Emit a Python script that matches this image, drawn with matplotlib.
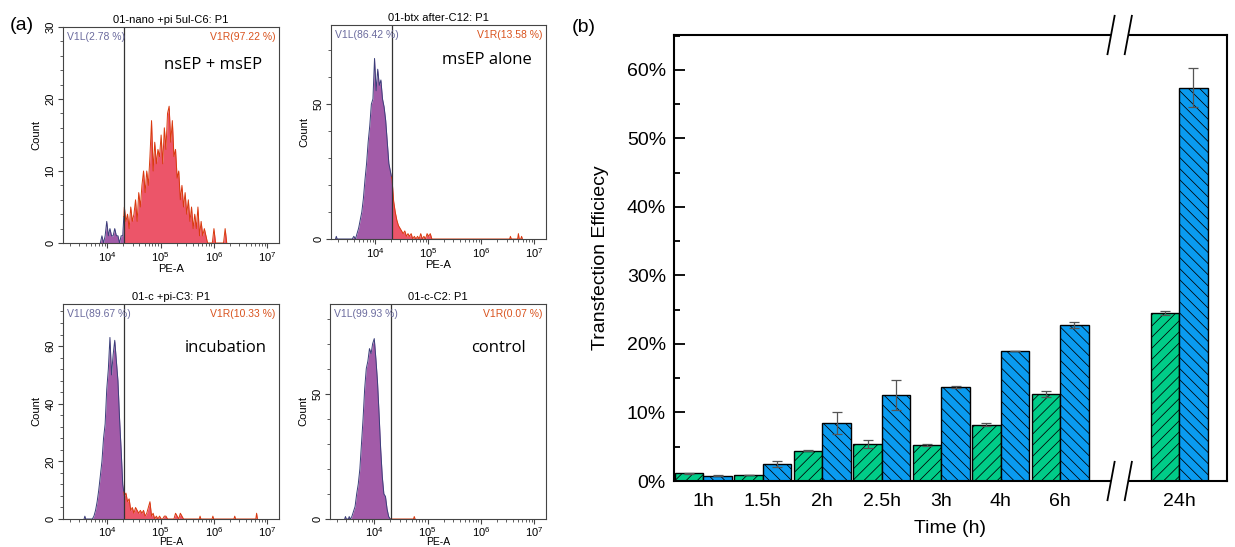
import numpy as np
import matplotlib.pyplot as plt
from matplotlib.ticker import LogLocator, LogFormatterSciNotation, MultipleLocator, FuncFormatter, NullFormatter

plt.rcParams['font.family'] = ['Liberation Sans', 'DejaVu Sans']
plt.rcParams['hatch.linewidth'] = 0.55

W, H = 1235, 547

# ---------------- (a) flow cytometry histograms (log10 PE-A, step 0.03)
gate = 4.31
step = 0.03

titles = ['01-nano +pi 5ul-C6: P1', '01-btx after-C12: P1', '01-c +pi-C3: P1', '01-c-C2: P1']
left_pct = ['V1L(2.78 %)', 'V1L(86.42 %)', 'V1L(89.67 %)', 'V1L(99.93 %)']
right_pct = ['V1R(97.22 %)', 'V1R(13.58 %)', 'V1R(10.33 %)', 'V1R(0.07 %)']
conditions = ['nsEP + msEP', 'msEP alone', 'incubation', 'control']

start1 = 3.90
counts1 = [1, 0, 1, 3, 1, 2, 1, 1, 2, 1, 1, 0, 1, 1,
           5, 3, 4, 2, 5, 3, 4, 6, 3, 7, 5, 8, 10, 7, 10, 8, 12, 17, 10, 14,
           11, 13, 12, 15, 11, 16, 13, 18, 19, 14, 17, 12, 13, 9, 10, 6, 8, 5, 7, 4,
           6, 3, 5, 2, 4, 2, 5, 1, 3, 1, 2, 1, 0, 0, 0, 0, 2, 0, 0, 0, 0, 0, 0, 2]
sparse1 = []

start2 = 3.60
counts2 = [1, 0, 2, 4, 7, 10, 15, 22, 28, 36, 42, 50, 52, 67, 55, 63, 57, 59, 52, 49, 44, 36, 28,
           25, 22, 14, 10, 7, 5, 4, 3, 2, 3, 1, 2, 1, 2, 0, 1, 0, 1, 0, 2, 0, 1, 0, 2, 1, 2]
sparse2 = [(3.27, 1), (6.55, 1), (6.70, 2), (6.76, 1)]

start3 = 3.75
counts3 = [1, 3, 6, 10, 15, 20, 28, 33, 45, 52, 63, 50, 57, 62, 55, 48, 35, 24,
           12, 8, 9, 6, 7, 3, 4, 2, 4, 3, 2, 3, 2, 3, 1, 2, 4, 6, 1, 2, 0, 1, 0, 1,
           0, 0, 1, 1, 0, 0, 0, 0, 0, 2, 1, 0, 2, 1]
sparse3 = [(3.58, 1), (5.74, 1), (5.98, 1), (6.39, 1), (6.80, 2)]

start4 = 3.58
counts4 = [1, 3, 5, 10, 14, 20, 30, 40, 52, 60, 63, 68, 66, 70, 72, 64, 55, 42, 28, 17, 10, 9, 4, 1]
sparse4 = [(3.46, 1), (3.53, 1), (4.75, 1)]

starts = [start1, start2, start3, start4]
counts = [counts1, counts2, counts3, counts4]
sparses = [sparse1, sparse2, sparse3, sparse4]
ytops = [30, 79.4, 74.6, 85.8]
ymajor = [10, 50, 20, 50]
yminor = [2, 10, 4, 10]

# pixel boxes (left, right, top, bottom)
boxes = [(63, 279, 27, 243), (331, 546, 25, 239), (63, 279, 304, 519), (330, 546, 304, 519)]
cond_xy = [(213, 65), (487, 60), (226, 348), (498, 348)]


def rect(l, r, t, b):
    return [l / W, 1 - b / H, (r - l) / W, (b - t) / H]


fig = plt.figure(figsize=(W / 100, H / 100), dpi=100)

for i in range(4):
    ax = fig.add_axes(rect(*boxes[i]))
    c = np.array(counts[i], dtype=float)
    x = starts[i] + step * np.arange(len(c))
    px = [x[0] - step] + list(x) + [x[-1] + step]
    py = [0] + list(c) + [0]
    for sx, sn in sparses[i]:
        px += [sx - step / 2, sx, sx + step / 2]
        py += [0, sn, 0]
    px = np.array(px)
    py = np.array(py)
    o = np.argsort(px)
    px, py = px[o], py[o]
    yg = np.interp(gate, px, py)
    lm = px < gate
    xl = np.r_[px[lm], gate]
    yl = np.r_[py[lm], yg]
    xr = np.r_[gate, px[~lm]]
    yr = np.r_[yg, py[~lm]]
    ax.fill_between(10 ** xl, yl, color='#A25BA8', lw=0, zorder=1)
    ax.plot(10 ** xl, yl, color='#3B3F7A', lw=0.7, zorder=1.5)
    ax.fill_between(10 ** xr, yr, color='#EC5569', lw=0, zorder=1)
    ax.plot(10 ** xr, yr, color='#D93A0E', lw=0.7, zorder=1.5)
    ax.axvline(10 ** gate, color='#333333', lw=0.9)

    ax.set_xscale('log')
    ax.set_xlim(10 ** 3.17, 10 ** 7.22)
    ax.set_ylim(0, ytops[i])
    ax.xaxis.set_major_locator(LogLocator(base=10))
    ax.xaxis.set_major_formatter(LogFormatterSciNotation())
    ax.xaxis.set_minor_locator(LogLocator(base=10, subs=np.arange(2, 10)))
    ax.xaxis.set_minor_formatter(NullFormatter())
    ax.yaxis.set_major_locator(MultipleLocator(ymajor[i]))
    ax.yaxis.set_minor_locator(MultipleLocator(yminor[i]))
    ax.tick_params(which='major', length=3.5, width=0.8, labelsize=8, color='#444444', pad=2)
    ax.tick_params(which='minor', length=2, width=0.6, color='#444444')
    for t in ax.get_yticklabels():
        t.set_rotation(90)
        t.set_va('center')
    for s in ax.spines.values():
        s.set_linewidth(0.8)
        s.set_color('#444444')
    ax.set_title(titles[i], fontsize=8, pad=3)
    if i >= 2:
        # bottom row: label squeezed against the lower edge of the figure
        ax.tick_params(axis='x', which='major', pad=1)
        ax.set_xlabel('PE-A', fontsize=7.5)
        ax.xaxis.set_label_coords(0.5, -27.8 / 215)
        ax.xaxis.label.set_va('bottom')
    else:
        ax.set_xlabel('PE-A', fontsize=8, labelpad=0)
    ax.set_ylabel('Count', fontsize=8, labelpad=3)
    ax.text(0.02, 0.975, left_pct[i], transform=ax.transAxes, fontsize=7.5,
            color='#6B6B9E', ha='left', va='top')
    ax.text(0.985, 0.975, right_pct[i], transform=ax.transAxes, fontsize=7.5,
            color='#D9531E', ha='right', va='top')
    cx, cy = cond_xy[i]
    fig.text(cx / W, 1 - cy / H, conditions[i], fontsize=12, family=['Open Sans', 'DejaVu Sans'],
             ha='center', va='center')

fig.text(10 / W, 1 - 25 / H, '(a)', fontsize=14, va='center')

# ---------------- (b) transfection efficiency bars
times = ['1h', '1.5h', '2h', '2.5h', '3h', '4h', '6h', '24h']
green = [1.1, 0.85, 4.44, 5.37, 5.27, 8.2, 12.68, 24.54]
green_err = [0.05, 0.03, 0.12, 0.58, 0.15, 0.2, 0.4, 0.3]
blue = [0.78, 2.54, 8.49, 12.54, 13.7, 18.98, 22.78, 57.4]
blue_err = [0.1, 0.44, 1.6, 2.15, 0.17, 0.05, 0.5, 2.85]

pos = np.r_[np.arange(len(times) - 1), len(times)].astype(float)
bw = 0.48

ax = fig.add_axes(rect(674.3, 1226.7, 35, 481))
ekw = dict(ecolor='#555555', elinewidth=0.9, capsize=3.5, capthick=0.9)
ax.bar(pos - bw / 2, green, bw, color='#00CC88', edgecolor='black', lw=1.0, hatch='///',
       yerr=green_err, error_kw=ekw, zorder=2)
ax.bar(pos + bw / 2, blue, bw, color='#0A9BF0', edgecolor='black', lw=1.0, hatch='\\\\\\',
       yerr=blue_err, error_kw=ekw, zorder=2)

x0, x1 = -0.49, 8.8
ax.set_xlim(x0, x1)
ax.set_ylim(0, 65.1)
ax.set_xticks(pos)
ax.set_xticklabels(times)
ax.yaxis.set_major_locator(MultipleLocator(10))
ax.yaxis.set_minor_locator(MultipleLocator(5))
ax.yaxis.set_major_formatter(FuncFormatter(lambda v, p: '%d%%' % round(v)))
ax.tick_params(axis='y', which='major', direction='in', length=8, width=1.3, labelsize=14, pad=6)
ax.tick_params(axis='y', which='minor', direction='in', length=4.5, width=1.3)
ax.tick_params(axis='x', length=0, labelsize=14, pad=9)
for s in ['left', 'right']:
    ax.spines[s].set_linewidth(1.5)
ax.spines['top'].set_visible(False)
ax.spines['bottom'].set_visible(False)

brk = (pos[-2] + pos[-1]) / 2
gap = 0.17
tr = ax.get_xaxis_transform()
for yy in (0, 1):
    ax.plot([x0, brk - gap], [yy, yy], transform=tr, color='black', lw=1.5, clip_on=False,
            solid_capstyle='projecting')
    ax.plot([brk + gap, x1], [yy, yy], transform=tr, color='black', lw=1.5, clip_on=False,
            solid_capstyle='projecting')
    for dx in (-0.145, 0.145):
        ax.plot([brk + dx - 0.06, brk + dx + 0.06], [yy - 0.043, yy + 0.043], transform=tr,
                color='black', lw=1.3, clip_on=False)

ax.set_xlabel('Time (h)', fontsize=14)
ax.xaxis.set_label_coords(0.5, -0.088)
ax.set_ylabel('Transfection Efficiecy', fontsize=14)
ax.yaxis.set_label_coords(-0.118, 0.5)

fig.text(572 / W, 1 - 27 / H, '(b)', fontsize=14, va='center')

fig.savefig('out.png', dpi=100)
